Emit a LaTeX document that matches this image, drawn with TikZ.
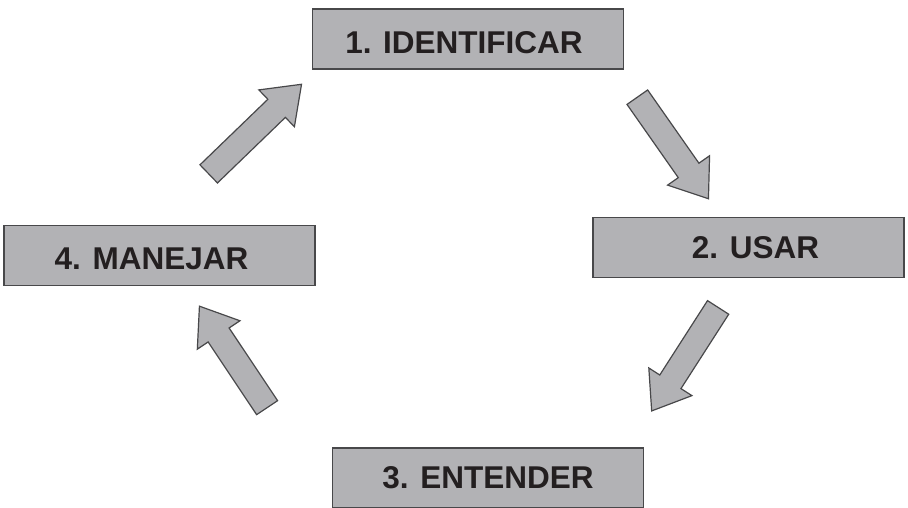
\documentclass[tikz,border=0pt]{standalone}
\usepackage{fontspec}
\setmainfont{Liberation Sans}
\usetikzlibrary{shapes.arrows}
\definecolor{boxc}{RGB}{178,178,181}
\definecolor{edgec}{RGB}{72,72,74}
\definecolor{inkc}{RGB}{35,31,32}
\tikzset{
  stage/.style={
    rectangle, draw=edgec, fill=boxc, line width=1.4pt,
    minimum width=311pt, minimum height=60pt, inner sep=0pt
  },
  stagetxt/.style={font=\fontsize{31.5}{36}\selectfont\bfseries, text=inkc},
  flow/.style={
    single arrow, draw=edgec, fill=boxc, line width=1.2pt,
    inner xsep=0pt, inner ysep=12pt, single arrow head extend=13pt,
    single arrow tip angle=73
  },
}

\begin{document}
\begin{tikzpicture}[x=1pt, y=1pt]

  \useasboundingbox (0,0) rectangle (908,-507);

  % the four stages of the cycle
  \node[stage, label={[stagetxt, xshift=-4pt, yshift=-4pt]center:1. IDENTIFICAR}]
    (identificar) at (468,-39) {};
  \node[stage, label={[stagetxt, xshift=7pt]center:2. USAR}]
    (usar) at (748.5,-247.5) {};
  \node[stage, label={[stagetxt]center:3. ENTENDER}]
    (entender) at (488,-478) {};
  \node[stage, label={[stagetxt, xshift=-8pt, yshift=-3pt]center:4. MANEJAR}]
    (manejar) at (159.5,-255.5) {};

  % block arrows between them
  \node[flow, minimum height=129pt, rotate=44] (manejar-identificar) at (249,-135) {};
  \node[flow, minimum height=124pt, rotate=-55] (identificar-usar) at (668,-141) {};
  \node[flow, minimum height=123pt, rotate=-122.7] (usar-entender) at (689.5,-352) {};
  \node[flow, minimum height=122pt, rotate=123.7] (entender-manejar) at (238,-364) {};

\end{tikzpicture}
\end{document}
